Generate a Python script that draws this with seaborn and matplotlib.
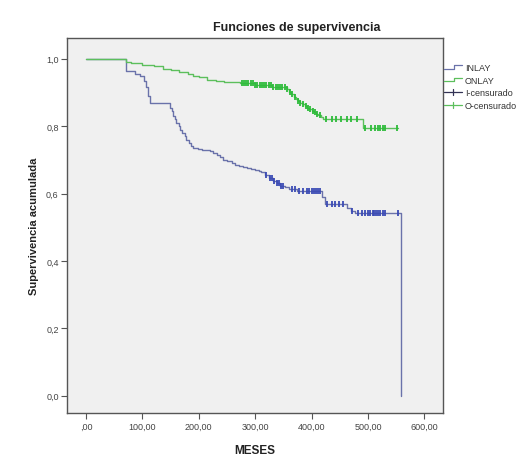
import numpy as np
import pandas as pd
import matplotlib
matplotlib.use("Agg")
import matplotlib.pyplot as plt
import seaborn as sns
from matplotlib.lines import Line2D
from matplotlib.legend_handler import HandlerBase

# ---- data ----
inlay_t = [0, 71, 87, 95, 102, 106, 110, 113, 149, 152, 155, 158, 160, 164, 167, 171, 175,
           178, 182, 186, 190, 198, 205, 212, 220, 226, 232, 238, 243, 250, 258, 265, 272,
           278, 285, 292, 300, 306, 311, 318, 325, 332, 338, 344, 352, 360, 374, 418, 424,
           462, 470, 477, 559]
inlay_s = [1.0, 0.963, 0.955, 0.95, 0.935, 0.915, 0.89, 0.869, 0.855, 0.845, 0.83, 0.82,
           0.81, 0.8, 0.79, 0.78, 0.77, 0.76, 0.75, 0.742, 0.736, 0.733, 0.73, 0.728, 0.726,
           0.72, 0.715, 0.708, 0.701, 0.696, 0.69, 0.686, 0.683, 0.68, 0.676, 0.673, 0.67,
           0.667, 0.663, 0.655, 0.645, 0.637, 0.63, 0.622, 0.618, 0.614, 0.607, 0.59, 0.568,
           0.556, 0.548, 0.543, 0.0]

onlay_t = [0, 71, 80, 100, 120, 137, 150, 165, 180, 190, 200, 214, 230, 245, 260, 273, 300,
           330, 356, 360, 364, 368, 372, 376, 380, 384, 388, 392, 396, 400, 404, 408, 412,
           416, 421, 491, 553]
onlay_s = [1.0, 0.99, 0.986, 0.982, 0.978, 0.971, 0.968, 0.962, 0.956, 0.95, 0.946, 0.938,
           0.935, 0.932, 0.93, 0.928, 0.922, 0.915, 0.909, 0.902, 0.895, 0.888, 0.88, 0.875,
           0.87, 0.865, 0.86, 0.855, 0.85, 0.846, 0.842, 0.837, 0.832, 0.826, 0.82, 0.795,
           0.795]

inlay_cens = [320, 326, 330, 334, 338, 342, 346, 350, 365, 370, 378, 385, 392, 395, 400,
              404, 408, 412, 415, 428, 436, 442, 448, 455, 472, 482, 490, 494, 500, 504,
              508, 511, 514, 518, 522, 526, 530, 553]
onlay_cens = [276, 280, 284, 288, 292, 296, 300, 304, 308, 312, 316, 320, 324, 328, 332,
              336, 340, 344, 348, 352, 356, 362, 366, 370, 376, 380, 384, 390, 394, 398,
              402, 406, 410, 415, 426, 436, 444, 452, 462, 470, 480, 495, 505, 512, 518,
              522, 526, 530, 551]

x_ticks = [0, 100, 200, 300, 400, 500, 600]
x_labels = [",00", "100,00", "200,00", "300,00", "400,00", "500,00", "600,00"]
y_ticks = [0.0, 0.2, 0.4, 0.6, 0.8, 1.0]
y_labels = ["0,0", "0,2", "0,4", "0,6", "0,8", "1,0"]

def surv_at(times, surv, q):
    idx = np.searchsorted(np.asarray(times), np.asarray(q), side="right") - 1
    return np.asarray(surv)[idx]

sns.set_theme(style="white")
plt.rcParams["font.family"] = ["Liberation Sans", "DejaVu Sans"]

c_inlay_line = "#6a72aa"
c_inlay_mark = "#3b4bb5"
c_onlay_line = "#5cbf5c"
c_onlay_mark = "#2dbb3a"

fig = plt.figure(figsize=(5.26, 4.56), dpi=100)
ax = fig.add_axes([0.1274, 0.0921, 0.7148, 0.8224])
ax.set_facecolor("#f0f0f0")

df_i = pd.DataFrame({"t": inlay_t, "s": inlay_s})
df_o = pd.DataFrame({"t": onlay_t, "s": onlay_s})
sns.lineplot(data=df_i, x="t", y="s", ax=ax, drawstyle="steps-post", color=c_inlay_line,
             lw=1.0, estimator=None, sort=False)
sns.lineplot(data=df_o, x="t", y="s", ax=ax, drawstyle="steps-post", color=c_onlay_line,
             lw=1.0, estimator=None, sort=False)

ci = pd.DataFrame({"t": inlay_cens, "s": surv_at(inlay_t, inlay_s, inlay_cens)})
co = pd.DataFrame({"t": onlay_cens, "s": surv_at(onlay_t, onlay_s, onlay_cens)})
sns.scatterplot(data=ci, x="t", y="s", ax=ax, marker="|", s=18, color=c_inlay_mark,
                linewidth=1.3, zorder=3)
sns.scatterplot(data=co, x="t", y="s", ax=ax, marker="|", s=18, color=c_onlay_mark,
                linewidth=1.3, zorder=3)

ax.set_xlim(-33.7, 633)
ax.set_ylim(-0.0513, 1.0617)
ax.set_xticks(x_ticks)
ax.set_xticklabels(x_labels)
ax.set_yticks(y_ticks)
ax.set_yticklabels(y_labels)
ax.tick_params(axis="both", which="major", direction="out", length=4, width=0.8,
               color="#555555", labelsize=6.5, labelcolor="#444444", pad=2,
               bottom=True, left=True)
for sp in ax.spines.values():
    sp.set_color("#555555")
    sp.set_linewidth(1.0)

ax.set_xlabel("MESES", fontsize=8.5, fontweight="bold", color="#222222", labelpad=10)
ax.set_ylabel("Supervivencia acumulada", fontsize=8, fontweight="bold", color="#222222",
              labelpad=5)
fig.text(297 / 526, 1 - 28 / 456, "Funciones de supervivencia", ha="center", va="center",
         fontsize=9, fontweight="bold", color="#222222")


class StepHandler(HandlerBase):
    def create_artists(self, legend, orig_handle, xdescent, ydescent, width, height,
                       fontsize, trans):
        x0, x1 = -xdescent, -xdescent + width
        xm = x0 + width * 0.55
        y_lo = -ydescent + height * 0.2
        y_hi = -ydescent + height * 0.8
        ln = Line2D([x0, xm, xm, x1], [y_lo, y_lo, y_hi, y_hi],
                    color=orig_handle.get_color(), lw=0.9, transform=trans)
        return [ln]


class CensHandler(HandlerBase):
    def create_artists(self, legend, orig_handle, xdescent, ydescent, width, height,
                       fontsize, trans):
        x0, x1 = -xdescent, -xdescent + width
        yc = -ydescent + height / 2
        xm = x0 + width * 0.5
        h = Line2D([x0, x1], [yc, yc], color=orig_handle.get_color(), lw=0.9,
                   transform=trans)
        v = Line2D([xm, xm], [yc - height * 0.45, yc + height * 0.45],
                   color=orig_handle.get_color(), lw=0.9, transform=trans)
        return [h, v]


class StepKey(Line2D):
    pass


class CensKey(Line2D):
    pass


handles = [StepKey([], [], color=c_inlay_line), StepKey([], [], color=c_onlay_line),
           CensKey([], [], color="#333355"), CensKey([], [], color=c_onlay_line)]
labels = ["INLAY", "ONLAY", "I-censurado", "O-censurado"]
fig.legend(handles, labels, loc="upper left", bbox_to_anchor=(444 / 526, 1 - 64 / 456),
           frameon=False, fontsize=6.5, handlelength=2.0, handletextpad=0.3,
           labelspacing=0.4, borderaxespad=0, borderpad=0, labelcolor="#333333",
           handler_map={StepKey: StepHandler(), CensKey: CensHandler()})

fig.savefig("out.png", dpi=100, facecolor="white")
